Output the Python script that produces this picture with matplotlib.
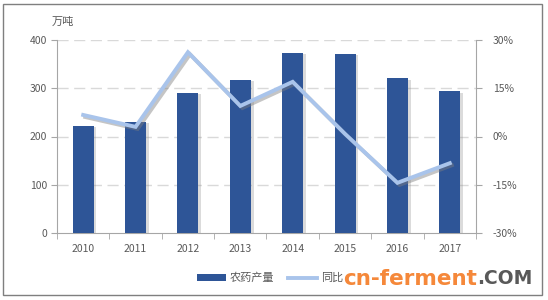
import matplotlib
matplotlib.use('Agg')
import matplotlib.pyplot as plt
import matplotlib.patheffects as pe
from matplotlib.patches import Rectangle
from matplotlib.lines import Line2D
from matplotlib.patches import Patch

plt.rcParams['font.family'] = ['Noto Sans CJK SC', 'DejaVu Sans']

# data
years = ['2010', '2011', '2012', '2013', '2014', '2015', '2016', '2017']
output = [222, 230, 290, 318, 374, 372, 321, 294]          # 农药产量, 万吨
yoy = [6.7, 3.0, 26.2, 9.5, 17.0, 0.8, -14.4, -8.3]         # 同比, %

bar_color = '#2E5597'
line_color = '#A9C4EB'
text_color = '#595959'
axis_color = '#A6A6A6'

fig = plt.figure(figsize=(5.48, 3.0), dpi=100)
ax = fig.add_axes([0.104, 0.2233, 0.7646, 0.6434])
x = list(range(len(years)))

bars = ax.bar(x, output, width=0.4, color=bar_color, zorder=3)
for b in bars:
    b.set_path_effects([pe.SimplePatchShadow(offset=(2, -1), shadow_rgbFace='#888888', alpha=0.3), pe.Normal()])

ax.set_xlim(-0.5, len(years) - 0.5)
ax.set_ylim(0, 400)
ax.set_yticks([0, 100, 200, 300, 400])
ax.set_xticks(x)
ax.set_xticklabels(years)
ax.set_xticks([i - 0.5 for i in range(len(years) + 1)], minor=True)
ax.tick_params(axis='x', which='major', length=0, pad=8, labelsize=7.5, labelcolor=text_color)
ax.tick_params(axis='x', which='minor', length=4, color=axis_color, direction='out')
ax.tick_params(axis='y', length=4, color=axis_color, labelsize=7.5, labelcolor=text_color, pad=3)
for y in [100, 200, 300, 400]:
    ax.axhline(y, color='#D9D9D9', lw=1, ls=(0, (8, 4)), zorder=1)
for s in ['top', 'right']:
    ax.spines[s].set_visible(False)
ax.spines['left'].set_color(axis_color)
ax.spines['bottom'].set_color(axis_color)

ax2 = ax.twinx()
ax2.plot(x, yoy, color=line_color, lw=2.8, solid_joinstyle='miter', zorder=4,
         path_effects=[pe.SimpleLineShadow(offset=(1.5, -1.5), shadow_color='#7F7F7F', alpha=0.45), pe.Normal()])
ax2.set_ylim(-30, 30)
ax2.set_yticks([-30, -15, 0, 15, 30])
ax2.set_yticklabels(['-30%', '-15%', '0%', '15%', '30%'])
ax2.tick_params(axis='y', length=4, color=axis_color, labelsize=7.5, labelcolor=text_color, pad=8)
for s in ['top', 'left', 'bottom']:
    ax2.spines[s].set_visible(False)
ax2.spines['right'].set_color(axis_color)

fig.text(52 / 548, 1 - 22 / 300, '万吨', fontsize=8, color=text_color, va='center')

handles = [Patch(facecolor=bar_color), Line2D([0], [0], color=line_color, lw=2.8)]
fig.legend(handles, ['农药产量', '同比'], loc='center', bbox_to_anchor=(0.493, 1 - 278 / 300),
           ncol=2, frameon=False, fontsize=8, labelcolor=text_color,
           handlelength=2.6, handleheight=0.6, columnspacing=1.2, handletextpad=0.4)

# watermark
fig.text(343 / 548, 1 - 279 / 300, 'cn-ferment', fontsize=15.5, fontweight='bold',
         color='#F5883A', va='center', family='DejaVu Sans', zorder=10)
fig.text(477 / 548, 1 - 279 / 300, '.COM', fontsize=13.5, fontweight='bold',
         color='#595959', va='center', family='DejaVu Sans', zorder=10)

fig.patches.append(Rectangle((3 / 548, 5 / 300), 539 / 548, 291 / 300, transform=fig.transFigure,
                             fill=False, edgecolor='#7F7F7F', lw=1))

fig.savefig('out.png', dpi=100)
